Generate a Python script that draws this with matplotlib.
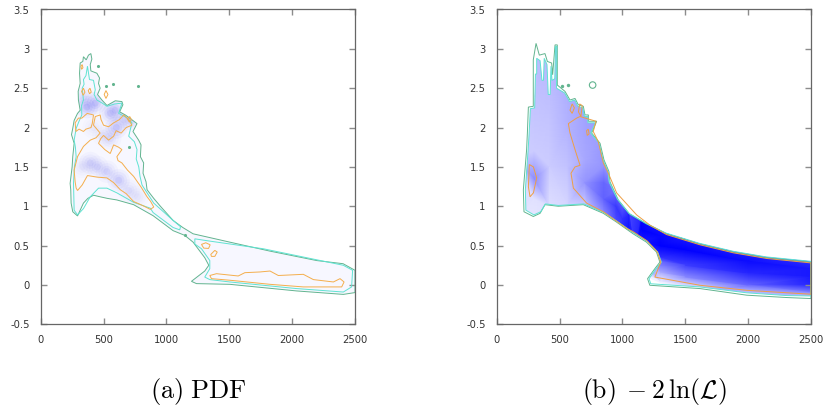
"""Two contour/density panels: PDF and -2 ln(L) over the same plane."""
import matplotlib
matplotlib.use("Agg")
import matplotlib.pyplot as plt
from matplotlib.colors import LinearSegmentedColormap
from matplotlib.patches import Polygon

GREEN = "#62b48f"
TEAL = "#5fe3d2"
ORANGE = "#f4ae4c"

x_ticks = [0, 500, 1000, 1500, 2000, 2500]
y_ticks = [-0.5, 0, 0.5, 1, 1.5, 2, 2.5, 3, 3.5]
y_labels = ["-0.5", "0", "0.5", "1", "1.5", "2", "2.5", "3", "3.5"]
captions = [r"$\mathrm{(a)\;PDF}$", r"$\mathrm{(b)}\;-2\,\ln(\mathcal{L})$"]

# ---- left panel: contour outlines (x, y)
pdf_green = [
    (293, .877), (255, .93), (242, 1.04), (239, 1.21), (234, 1.29), (250, 1.50), (255, 1.63),
    (266, 1.80), (245, 1.91), (255, 1.99), (266, 2.09), (293, 2.18), (314, 2.22), (300, 2.35),
    (298, 2.46), (314, 2.56), (309, 2.69), (314, 2.82), (335, 2.84), (340, 2.90), (362, 2.86),
    (380, 2.92), (399, 2.94), (407, 2.87), (394, 2.80), (399, 2.72), (447, 2.69), (468, 2.63),
    (460, 2.56), (473, 2.50), (452, 2.42), (487, 2.35), (527, 2.28), (593, 2.34), (646, 2.33),
    (654, 2.29), (628, 2.20), (673, 2.16), (700, 2.13), (766, 2.05), (734, 1.95), (779, 1.84),
    (798, 1.78), (793, 1.63), (819, 1.55), (814, 1.42), (838, 1.31), (846, 1.21), (899, 1.10),
    (952, 1.0), (1053, .82), (1130, .73), (1212, .65), (1350, .60), (1504, .544), (1823, .43),
    (2195, .31), (2405, .27), (2500, .186), (2500, -.097), (2407, -.12), (2035, -.076),
    (1504, .008), (1239, .017), (1199, .046), (1305, .177), (1337, .25), (1305, .346),
    (1212, .544), (1146, .63), (1053, .69), (894, .88), (739, 1.02), (606, 1.08), (530, 1.10),
    (473, 1.12), (420, 1.14), (375, 1.10), (340, 1.04),
]
pdf_teal_a = [
    (293, .89), (266, .95), (261, 1.29), (268, 1.50), (282, 1.63), (276, 1.75), (266, 1.84),
    (282, 1.99), (305, 2.08), (327, 2.16), (325, 2.28), (340, 2.35), (330, 2.50), (345, 2.55),
    (340, 2.61), (360, 2.66), (372, 2.78), (388, 2.61), (420, 2.60), (434, 2.48), (425, 2.42),
    (447, 2.35), (490, 2.31), (527, 2.27), (590, 2.30), (646, 2.31), (620, 2.18), (680, 2.13),
    (726, 2.06), (700, 1.89), (745, 1.82), (766, 1.72), (760, 1.60), (780, 1.5), (790, 1.38),
    (806, 1.27), (899, 1.04), (1053, .82), (1112, .74), (1106, .70), (1053, .73), (894, .92),
    (872, .975), (739, 1.05), (606, 1.17), (527, 1.23), (460, 1.23), (394, 1.12), (340, .97),
]
pdf_teal_b = [
    (1226, .586), (1345, .557), (1770, .46), (2407, .25), (2481, .186), (2473, -.025),
    (2407, -.09), (2035, -.046), (1504, .038), (1345, .068), (1305, .10), (1345, .207),
    (1345, .31), (1279, .46), (1226, .52),
]
pdf_orange = [
    [(274, 1.31), (282, 1.23), (293, 1.2), (330, 1.27), (372, 1.39), (450, 1.37), (527, 1.36),
     (580, 1.30), (633, 1.21), (680, 1.16), (739, 1.06), (810, 1.01), (872, .96), (899, .99),
     (875, 1.06), (846, 1.12), (800, 1.24), (739, 1.38), (690, 1.46), (646, 1.55), (615, 1.58),
     (606, 1.63), (646, 1.72), (620, 1.75), (580, 1.78), (553, 1.67), (510, 1.72), (460, 1.8),
     (478, 1.86), (500, 1.9), (540, 1.84), (580, 1.89), (600, 1.96), (640, 1.93), (680, 2.0),
     (726, 2.03), (700, 2.10), (660, 2.16), (625, 2.10), (580, 2.06), (540, 2.01), (500, 2.03),
     (480, 2.10), (473, 2.16), (434, 2.14), (420, 2.03), (473, 1.93), (440, 1.87), (394, 1.84),
     (340, 1.76), (293, 1.63), (266, 1.46)],
    [(274, 2.06), (300, 2.12), (327, 2.12), (370, 2.18), (420, 2.16), (410, 2.05), (400, 2.0),
     (360, 1.98), (340, 1.95), (305, 1.98), (280, 1.95)],
    [(1345, .12), (1398, .143), (1571, .114), (1624, .156), (1744, .165), (1824, .177),
     (1890, .12), (2089, .135), (2169, .068), (2328, .038), (2381, .08), (2413, .038),
     (2394, -.025), (2089, -.025), (1824, .008), (1504, .06), (1358, .08)],
    [(1279, .515), (1313, .536), (1348, .51), (1335, .464), (1297, .468)],
    [(1353, .388), (1385, .439), (1404, .418), (1385, .363), (1358, .363)],
    [(505, 2.42), (519, 2.47), (535, 2.42), (519, 2.37)],
    [(325, 2.46), (340, 2.50), (352, 2.45), (338, 2.41)],
    [(378, 2.47), (392, 2.50), (402, 2.45), (388, 2.43)],
    [(690, 2.11), (708, 2.14), (722, 2.10), (705, 2.07)],
    [(320, 2.78), (330, 2.80), (336, 2.76), (325, 2.74)],
]
pdf_dots_x = [457, 519, 572, 771, 705, 1146]
pdf_dots_y = [2.78, 2.53, 2.55, 2.53, 1.75, .63]

# left panel: darker patches in the density (x, y, strength)
pdf_spot_x = [367, 434, 340, 553, 593, 601, 553, 713, 620, 527, 450, 394, 330, 700, 770, 500, 420, 660]
pdf_spot_y = [2.26, 2.31, 2.38, 2.18, 2.22, 2.0, 1.86, 2.11, 1.33, 1.44, 1.5, 1.55, 1.5, 1.2, 1.12, 1.9, 2.0, 2.1]
pdf_spot_v = [1.0, .9, .4, .7, .7, .9, .45, .7, .8, .65, .55, .55, .3, .45, .3, .3, .25, .35]

# ---- right panel: contour outlines (x, y)
lik_green = [
    (291, .87), (217, .93), (212, 1.21), (238, 1.72), (244, 1.93), (252, 2.26), (291, 2.27),
    (291, 2.86), (313, 3.07), (339, 2.92), (384, 2.94), (403, 2.84), (437, 2.82), (445, 2.67),
    (464, 3.05), (482, 3.05), (482, 2.54), (543, 2.46), (583, 2.35), (623, 2.37), (649, 2.29),
    (689, 2.27), (702, 2.16), (729, 2.16), (729, 2.08), (795, 2.08), (755, 1.93), (822, 1.80),
    (853, 1.59), (893, 1.44), (901, 1.31), (967, 1.08), (1058, .90), (1191, .776), (1351, .65),
    (1617, .52), (1883, .418), (2149, .346), (2500, .29), (2500, -.173), (2308, -.16),
    (1989, -.13), (1617, -.046), (1218, -.004), (1200, .08), (1258, .207), (1298, .29),
    (1271, .418), (1191, .544), (1085, .65), (952, .80), (848, .91), (689, 1.02), (490, 1.0),
    (384, 1.02), (345, .91),
]
lik_teal = [
    (296, .89), (232, .95), (228, 1.21), (250, 1.72), (258, 1.93), (268, 2.24), (302, 2.25),
    (308, 2.68), (318, 2.68), (318, 2.88), (345, 2.85), (360, 2.60), (372, 2.60), (378, 2.88),
    (400, 2.80), (410, 2.42), (425, 2.42), (432, 2.78), (440, 2.60), (462, 2.62), (468, 3.03),
    (478, 3.03), (476, 2.50), (540, 2.44), (580, 2.33), (620, 2.35), (645, 2.27), (685, 2.25),
    (698, 2.14), (725, 2.14), (725, 2.06), (785, 2.06), (748, 1.93), (815, 1.80), (846, 1.59),
    (886, 1.44), (894, 1.31), (960, 1.09), (1052, .91), (1185, .785), (1345, .66), (1610, .53),
    (1880, .428), (2145, .356), (2500, .30), (2500, -.14), (2308, -.135), (1989, -.10),
    (1617, -.025), (1225, .015), (1212, .08), (1268, .207), (1310, .29), (1281, .418),
    (1200, .55), (1090, .66), (956, .81), (852, .92), (692, 1.03), (490, 1.01), (388, 1.03),
    (350, .93),
]
lik_orange = [
    [(570, 2.05), (636, 2.12), (663, 2.14), (790, 2.08), (768, 1.95), (808, 1.82), (848, 1.55),
     (888, 1.42), (954, 1.17), (1113, .89), (1219, .76), (1351, .64), (1617, .51), (1883, .408),
     (2149, .336), (2500, .28), (2500, -.118), (1989, -.068), (1617, -.004), (1258, .10),
     (1305, .29), (1278, .418), (1196, .56), (1092, .67), (1033, .72), (848, .93), (715, 1.04),
     (610, 1.23), (591, 1.42), (623, 1.5), (663, 1.52), (623, 1.72), (583, 1.93)],
    [(252, 1.25), (265, 1.12), (292, 1.17), (318, 1.36), (292, 1.5), (260, 1.53)],
    [(583, 2.22), (600, 2.30), (618, 2.25), (600, 2.18)],
    [(660, 2.30), (680, 2.28), (670, 2.14), (650, 2.20)],
    [(715, 1.96), (728, 1.98), (735, 1.92), (720, 1.90)],
]
lik_dots_x = [519, 567]
lik_dots_y = [2.53, 2.54]
lik_ring_x = [763]
lik_ring_y = [2.54]

# right panel: density samples, cross-section by cross-section
lik_x = [
    150, 150, 150, 150, 300, 300, 300, 300, 300, 300, 420, 420, 420, 420, 560, 560, 560, 560,
    700, 700, 700, 700, 700, 850, 850, 850, 850, 850, 950, 950, 950, 1000, 1000, 1000,
    1050, 1050, 1050, 1050,
    1150, 1150, 1150, 1150, 1300, 1300, 1300, 1300, 1300, 1300, 1300, 1500, 1500, 1500, 1500,
    1500, 1500, 2000, 2000, 2000, 2000, 2000, 2500, 2500, 2500, 2500, 2500, 2500, 1100, 1300,
]
lik_y = [
    .8, 1.6, 2.4, 3.2, .9, 1.1, 1.35, 1.7, 2.4, 3.1, 1.0, 1.5, 2.2, 3.1, 1.0, 1.5, 2.0, 2.6,
    1.0, 1.3, 1.6, 2.0, 2.4, .9, 1.1, 1.3, 1.5, 1.9, .8, 1.0, 1.2, .72, .85, .98,
    .62, .75, .9, 1.0,
    .55, .7, .8, .9, .05, .15, .25, .35, .5, .62, .75, -.1, 0, .1, .25, .45, .6,
    -.15, 0, .15, .3, .45, -.2, -.1, 0, .1, .2, .32, .4, .3,
]
lik_v = [
    .1, .2, .22, .25, .1, .12, .45, .2, .24, .26, .13, .2, .24, .3, .16, .24, .3, .32,
    .2, .42, .34, .36, .36, .45, .62, .6, .42, .4, .7, .78, .55, .82, .8, .66,
    .85, .92, .85, .7,
    .9, 1, .98, .85, .06, .3, .5, .8, 1, .97, .9, .05, .15, .45, .75, 1, .9,
    .05, .6, .85, .95, .85, .05, .45, .85, .9, .9, .8, .85, .6,
]

blue_map = LinearSegmentedColormap.from_list("wb", ["#ffffff", "#0000ff"])


def outline(ax, pts, color, lw=0.7):
    ax.add_patch(Polygon(pts, closed=True, fill=False, edgecolor=color, linewidth=lw, zorder=3))


def style_axes(ax, caption, size):
    ax.set_xlim(0, 2500)
    ax.set_ylim(-0.5, 3.5)
    ax.set_xticks(x_ticks)
    ax.set_yticks(y_ticks, y_labels)
    ax.tick_params(direction="in", top=True, right=True, length=4.4, width=1.0,
                   color="#8c8c8c", labelsize=7.2, labelcolor="#333333")
    ax.tick_params(axis="y", pad=8)
    ax.tick_params(axis="x", pad=8)
    for s in ax.spines.values():
        s.set_color("#666666")
        s.set_linewidth(0.9)
    ax.text(0.5, -0.212, caption, transform=ax.transAxes, ha="center", va="center", fontsize=size)


plt.rcParams["mathtext.fontset"] = "cm"
fig = plt.figure(figsize=(8.3, 4.11), dpi=100)
W, H = 830, 411
ax1 = fig.add_axes([40.7 / W, 1 - 324.3 / H, 314.3 / W, 314.8 / H])
ax2 = fig.add_axes([496.7 / W, 1 - 324.3 / H, 314.3 / W, 314.8 / H])

# left panel
base = Polygon(pdf_green, closed=True, facecolor="#f7f7ff", edgecolor="none", zorder=1)
ax1.add_patch(base)
for size, alpha in [(260, .05), (150, .065), (70, .085), (25, .11)]:
    sc = ax1.scatter(pdf_spot_x, pdf_spot_y, s=size, c="#3c3cf0",
                     alpha=[alpha * v for v in pdf_spot_v], linewidths=0, zorder=2)
    sc.set_clip_path(base)
outline(ax1, pdf_green, GREEN)
outline(ax1, pdf_teal_a, TEAL)
outline(ax1, pdf_teal_b, TEAL)
for pts in pdf_orange:
    outline(ax1, pts, ORANGE)
ax1.scatter(pdf_dots_x, pdf_dots_y, s=5, c=GREEN, linewidths=0, zorder=3)
style_axes(ax1, captions[0], 19)

# right panel
region = Polygon(lik_teal, closed=True, facecolor="none", edgecolor="none")
ax2.add_patch(region)
mesh = ax2.tripcolor(lik_x, lik_y, lik_v, shading="gouraud", cmap=blue_map, vmin=0, vmax=1, zorder=1)
mesh.set_clip_path(region)
outline(ax2, lik_green, GREEN)
outline(ax2, lik_teal, TEAL)
for pts in lik_orange:
    outline(ax2, pts, "#ee9f45")
ax2.scatter(lik_dots_x, lik_dots_y, s=6, c=GREEN, linewidths=0, zorder=3)
ax2.scatter(lik_ring_x, lik_ring_y, s=22, facecolors="none", edgecolors=GREEN, linewidths=0.8, zorder=3)
style_axes(ax2, captions[1], 18.5)

fig.savefig("out.png", dpi=100)
